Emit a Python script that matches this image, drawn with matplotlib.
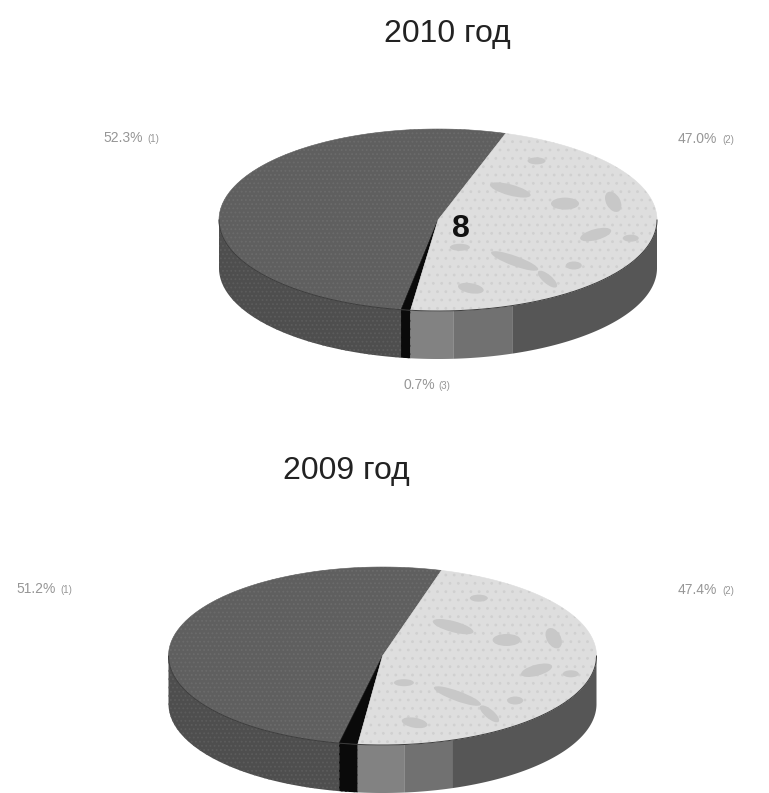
import numpy as np
import matplotlib
matplotlib.use('Agg')
from matplotlib import pyplot as plt
from matplotlib.patches import Ellipse

plt.rcParams['font.family'] = ['Liberation Sans', 'DejaVu Sans']
plt.rcParams['hatch.linewidth'] = 0.8

# shares in percent, going round from the back of the disc
shares_2010 = [52.3, 0.7, 47.0]
shares_2009 = [51.2, 1.4, 47.4]
titles = ['2010 год', '2009 год']
labels_2010 = ['52.3', '47.0', '0.7']
labels_2009 = ['51.2', '47.4']
notes_2010 = ['(1)', '(2)', '(3)']
notes_2009 = ['(1)', '(2)']

TOP = ['#5f5f5f', '#0a0a0a', '#dedede']
SPECKLE = ['#6b6b6b', '#0a0a0a', '#d0d0d0']
SIDE = ['#4e4e4e', '#0a0a0a', '#828282']
SIDE_SPECKLE = ['#5c5c5c', '#0a0a0a', '#828282']
SIDE_MID = '#717171'
SIDE_SHADOW = '#565656'

# darker flecks on the light slice: x, y as fractions of the radii, width, height (px), tilt
FLECKS = [(0.33, 0.33, 42, 11, 15), (0.58, 0.18, 28, 12, 0), (0.80, 0.20, 22, 14, 60),
          (0.35, -0.45, 50, 10, 20), (0.72, -0.16, 32, 11, -15), (0.15, -0.75, 26, 10, 10),
          (0.50, -0.65, 24, 9, 40), (0.10, -0.30, 20, 7, 0), (0.62, -0.50, 16, 8, 0),
          (0.45, 0.65, 18, 7, 0), (0.88, -0.20, 16, 7, 0)]

fig = plt.figure(figsize=(7.69, 7.93), dpi=100)
ax = fig.add_axes([0, 0, 1, 1])
ax.set_xlim(0, 769)
ax.set_ylim(793, 0)
ax.axis('off')


def rim(cx, cy, rx, ry, a, b):
    t = np.radians(np.linspace(a, b, 200))
    return cx + rx * np.cos(t), cy - ry * np.sin(t)


def side_piece(cx, cy, rx, ry, depth, a, b, color, speckle=None):
    # wall of the disc below the arc a..b, only the front half shows
    a2 = max(a, 180)
    b2 = min(b, 360)
    if b2 <= a2:
        return
    x, y = rim(cx, cy, rx, ry, a2, b2)
    px = np.r_[x, x[::-1]]
    py = np.r_[y, y[::-1] + depth]
    ax.fill(px, py, color=color, lw=0, zorder=2)
    if speckle:
        ax.fill(px, py, facecolor='none', edgecolor=speckle, hatch='....', lw=0, zorder=2)


def pie3d(cx, cy, rx, ry, depth, shares, start, mid_from, shade_from):
    edges = start + np.cumsum([0] + shares) * 3.6
    for i in range(3):
        a, b = edges[i], edges[i + 1]
        if i == 2:
            # the wall under the light slice goes from lit to shaded
            side_piece(cx, cy, rx, ry, depth, a, mid_from, SIDE[i])
            side_piece(cx, cy, rx, ry, depth, mid_from, shade_from, SIDE_MID)
            side_piece(cx, cy, rx, ry, depth, shade_from, b, SIDE_SHADOW)
        else:
            side_piece(cx, cy, rx, ry, depth, a, b, SIDE[i], SIDE_SPECKLE[i])
    for i in range(3):
        x, y = rim(cx, cy, rx, ry, edges[i], edges[i + 1])
        px = np.r_[cx, x]
        py = np.r_[cy, y]
        poly = ax.fill(px, py, color=TOP[i], lw=0.4, zorder=3)[0]
        if i == 0:
            ax.fill(px, py, facecolor='none', edgecolor=SPECKLE[i], lw=0, zorder=3, hatch='....')
        if i == 2:
            ax.fill(px, py, facecolor='none', edgecolor=SPECKLE[i], lw=0, zorder=3, hatch='..')
            for fx, fy, w, h, tilt in FLECKS:
                fleck = Ellipse((cx + fx * rx, cy - fy * ry), w, h, angle=tilt,
                                color='#c8c8c8', lw=0, zorder=3)
                ax.add_patch(fleck)
                fleck.set_clip_path(poly)
    # thin dark line where the top meets the wall
    x, y = rim(cx, cy, rx, ry, 180, 360)
    ax.plot(x, y, color='#3c3c3c', lw=0.7, zorder=4)


def pct_label(x, y, value, note):
    ax.text(x, y, value + '%', fontsize=10, color='#969696', va='center', ha='left', zorder=5)
    ax.text(x + 8.9 * (len(value) + 1), y + 1, note, fontsize=7, color='#969696',
            va='center', ha='left', zorder=5)


pie3d(438, 220, 219, 91, 48, shares_2010, 72, 274, 290)
pie3d(382.5, 656, 214, 89, 48, shares_2009, 74, 276, 289)

ax.text(447, 34, titles[0], fontsize=23, ha='center', va='center', color='#222222')
ax.text(346, 471, titles[1], fontsize=23, ha='center', va='center', color='#222222')
ax.text(461, 229, '8', fontsize=23, fontweight='bold', ha='center', va='center',
        color='#111111', zorder=6)

pct_label(103, 138, labels_2010[0], notes_2010[0])
pct_label(678, 139, labels_2010[1], notes_2010[1])
pct_label(403, 385, labels_2010[2], notes_2010[2])
pct_label(16, 589, labels_2009[0], notes_2009[0])
pct_label(678, 590, labels_2009[1], notes_2009[1])

fig.savefig('out.png', dpi=100)
